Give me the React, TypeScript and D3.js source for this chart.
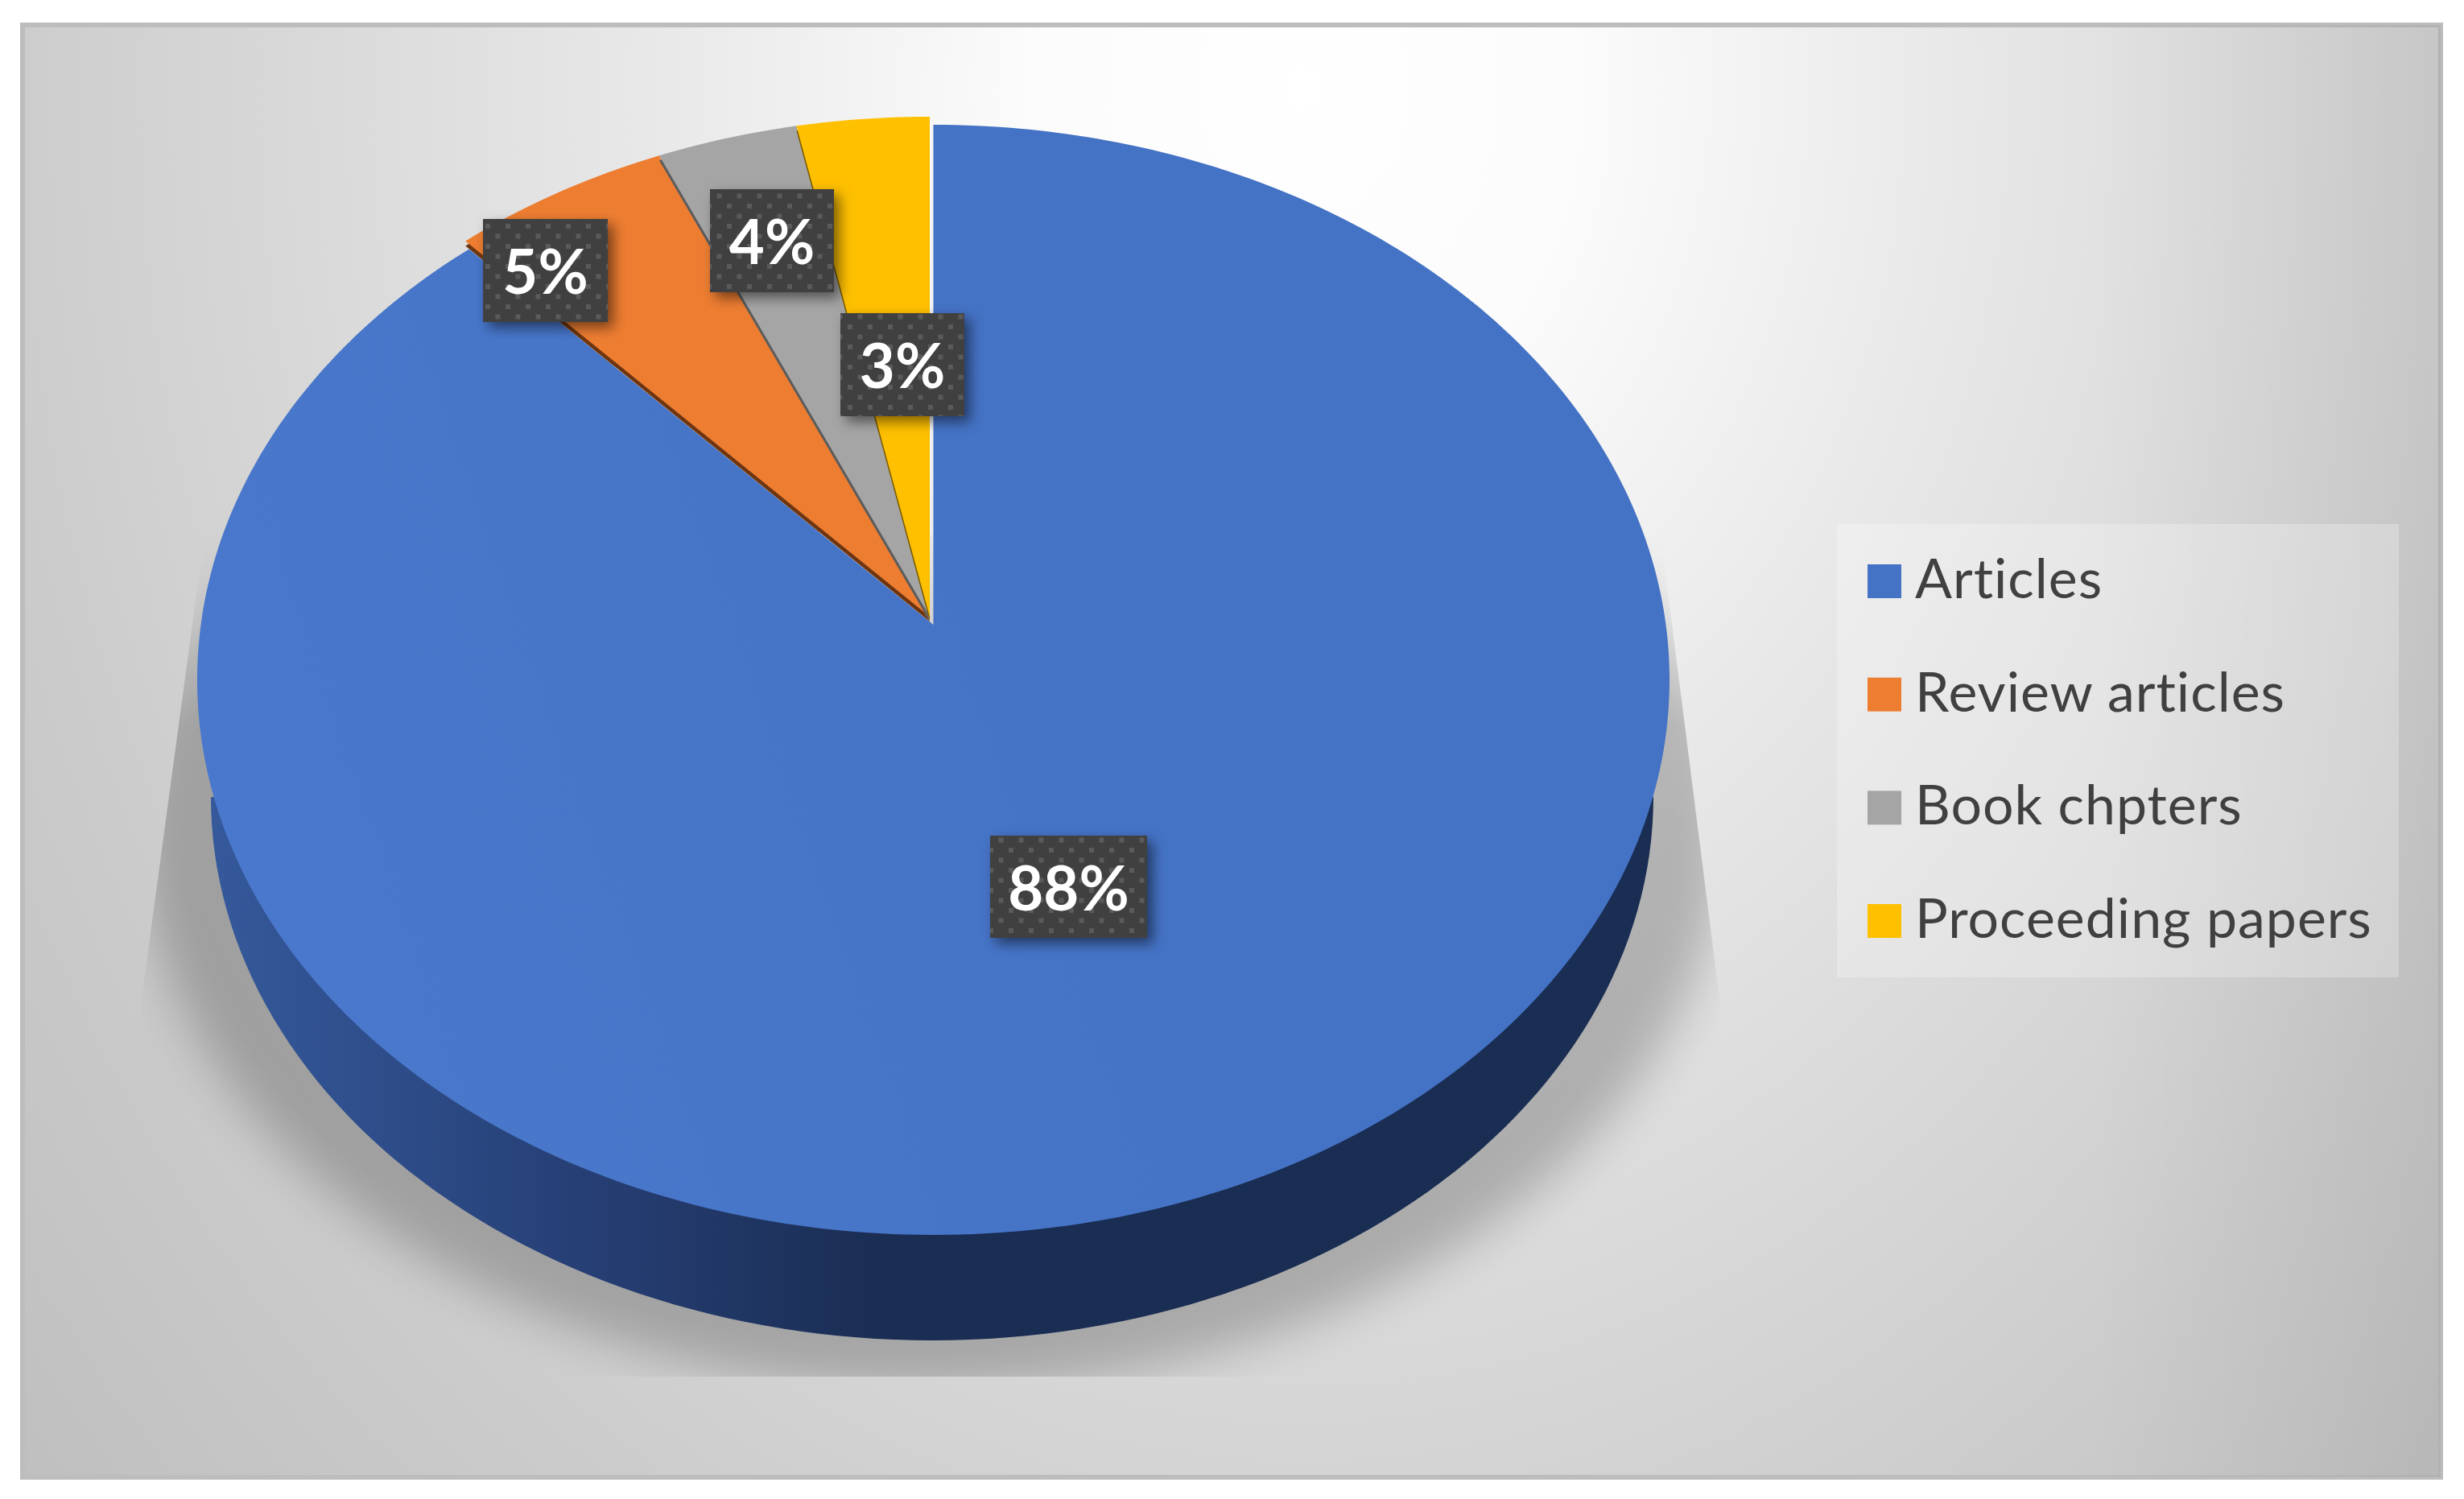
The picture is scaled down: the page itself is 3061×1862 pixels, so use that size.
import React from "react";
import * as d3 from "d3";

const categories = ["Articles", "Review articles", "Book chpters", "Proceeding papers"];
const sliceValues = [88.1, 5.3, 3.4, 3.2];
const percentLabels = ["88%", "5%", "4%", "3%"];
const sliceColors = ["#4674c8", "#ed7d31", "#a5a5a5", "#ffc000"];
const legendColors = ["#4472c4", "#ed7d31", "#a5a5a5", "#ffc000"];
const sideColors = ["#1a2d52", "#6e3510", "#5c5c5c", "#7a5c00"];

const W = 3061, H = 1862;
const apexX = 1158, apexY = 775, S = 910, T = 682.7, K = 0.0993;

function project(angle: number, r = 1): [number, number] {
  const u = r * Math.sin(angle), v = r * Math.cos(angle), d = 1 + K * v;
  return [apexX + (u * S) / d, apexY - (v * T) / d];
}

const pieGen = d3.pie<number>().sort(null).value((d) => d);
const arcs = pieGen(sliceValues);
const line = d3.line();

function slicePath(a0: number, a1: number) {
  const n = Math.max(8, Math.ceil((a1 - a0) * 60));
  const pts = d3.range(n + 1).map((i) => project(a0 + ((a1 - a0) * i) / n));
  return line([[apexX, apexY], ...pts])! + "Z";
}

const wallPts: [number, number][] = d3.range(0, Math.PI + 0.001, Math.PI / 120).map((t) => [
  1158 + 896 * Math.cos(t),
  990 + 675 * Math.sin(t),
]);
const wallPath = line(wallPts)! + "Z";

const boxes = [
  { x: 1230, y: 1038, w: 195, h: 127 },
  { x: 600, y: 272, w: 155, h: 128 },
  { x: 882, y: 235, w: 154, h: 128 },
  { x: 1044, y: 389, w: 154, h: 128 },
];
const legendY = d3.scaleLinear().domain([0, 3]).range([722, 1144]);

export default function App() {
  const font = "Lato, 'Open Sans', sans-serif";
  return (
    <svg width={W} height={H} viewBox={`0 0 ${W} ${H}`} style={{ position: "absolute", left: 0, top: 0, display: "block", background: "#fff" }}>
      <defs>
        <radialGradient id="bg" gradientUnits="userSpaceOnUse" cx={0} cy={0} r={1} gradientTransform="translate(1620 110) scale(2200 2733)">
          <stop offset="0" stopColor="#ffffff" />
          <stop offset="0.16" stopColor="#fbfbfb" />
          <stop offset="0.37" stopColor="#e8e8e8" />
          <stop offset="0.6" stopColor="#d6d6d6" />
          <stop offset="0.75" stopColor="#cbcbcb" />
          <stop offset="1" stopColor="#bdbdbd" />
        </radialGradient>
        <linearGradient id="edge" gradientUnits="userSpaceOnUse" x1="2600" x2="3034" y1="0" y2="0">
          <stop offset="0" stopColor="#000" stopOpacity="0" />
          <stop offset="1" stopColor="#000" stopOpacity="0.06" />
        </linearGradient>
        <linearGradient id="wall" gradientUnits="userSpaceOnUse" x1="262" x2="1100" y1="0" y2="0">
          <stop offset="0" stopColor="#35599b" />
          <stop offset="0.55" stopColor="#263f75" />
          <stop offset="1" stopColor="#1a2d52" />
        </linearGradient>
        <linearGradient id="top" gradientUnits="userSpaceOnUse" x1="244" x2="1400" y1="1100" y2="700">
          <stop offset="0" stopColor="#4a78cc" />
          <stop offset="1" stopColor="#4472c4" />
        </linearGradient>
        <linearGradient id="shadowFade" gradientUnits="userSpaceOnUse" x1="0" x2="0" y1="640" y2="900">
          <stop offset="0" stopColor="#fff" stopOpacity="0" />
          <stop offset="1" stopColor="#fff" stopOpacity="1" />
        </linearGradient>
        <mask id="shadowMask" maskUnits="userSpaceOnUse" x="0" y="0" width={W} height={H}>
          <rect x="0" y="0" width={W} height={H} fill="url(#shadowFade)" />
        </mask>
        <filter id="blur" x="-20%" y="-20%" width="140%" height="140%">
          <feGaussianBlur stdDeviation="30" />
        </filter>
        <filter id="boxShadow" x="-30%" y="-30%" width="170%" height="170%">
          <feDropShadow dx="7" dy="7" stdDeviation="8" floodColor="#000" floodOpacity="0.5" />
        </filter>
        <clipPath id="shadowClip">
          <polygon points="254,664 2063,664 2136,1240 2136,1710 176,1710 176,1240" />
        </clipPath>
        <pattern id="dots" patternUnits="userSpaceOnUse" width="25" height="25">
          <rect x="3" y="3" width="6" height="6" fill="#5a5a5a" />
          <rect x="15.5" y="15.5" width="6" height="6" fill="#5a5a5a" />
        </pattern>
      </defs>

      <rect x={28} y={31} width={3004} height={1804} fill="url(#bg)" stroke="#bdbdbd" strokeWidth={6} />
      <rect x={2600} y={31} width={432} height={1804} fill="url(#edge)" />

      <g clipPath="url(#shadowClip)" mask="url(#shadowMask)">
        <ellipse cx={1158} cy={1020} rx={985} ry={705} fill="#000" opacity={0.22} filter="url(#blur)" />
      </g>

      <path d={wallPath} fill="url(#wall)" />

      <g transform="translate(1.5,1)">
        <path d={slicePath(arcs[0].startAngle, arcs[0].endAngle)} fill="url(#top)" />
      </g>
      {arcs.slice(1).map((a, i) => (
        <g key={i}>
          <path d={slicePath(a.startAngle, a.endAngle)} transform="translate(-3,-3)" fill={sideColors[i + 1]} />
          <path d={slicePath(a.startAngle, a.endAngle)} transform="translate(-3,-9)" fill={sliceColors[i + 1]} />
        </g>
      ))}

      {boxes.map((b, i) => (
        <g key={i}>
          <rect x={b.x} y={b.y} width={b.w} height={b.h} fill="#404040" filter="url(#boxShadow)" />
          <rect x={b.x} y={b.y} width={b.w} height={b.h} fill="url(#dots)" />
          <text x={b.x + b.w / 2} y={b.y + 93} textAnchor="middle" fontFamily={font} fontWeight={700} fontSize={76} fill="#fff">
            {percentLabels[i]}
          </text>
        </g>
      ))}

      <rect x={2282} y={651} width={698} height={563} fill="#fff" opacity={0.25} />
      {categories.map((c, i) => (
        <g key={c}>
          <rect x={2320} y={legendY(i) - 21} width={42} height={42} fill={legendColors[i]} />
          <text x={2379} y={legendY(i) + 21} fontFamily={font} fontSize={68} letterSpacing={1} fill="#404040">
            {c}
          </text>
        </g>
      ))}
    </svg>
  );
}
